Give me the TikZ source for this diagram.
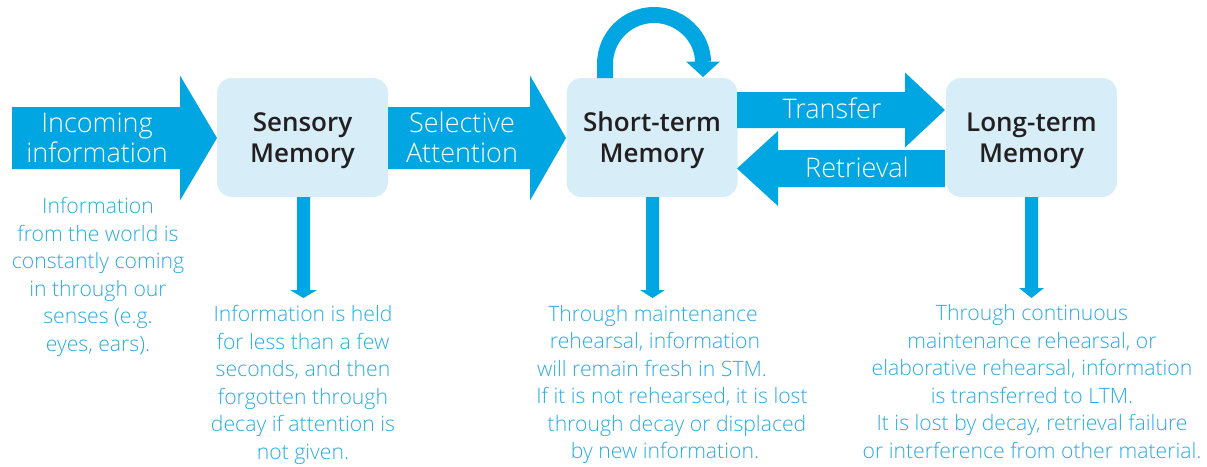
\documentclass[tikz,border=0pt]{standalone}
\usepackage{fontspec}
\setmainfont{Open Sans Light}
\newfontfamily\headfont{Open Sans Semibold}
\definecolor{flow}{HTML}{00A6E2}
\definecolor{boxfill}{HTML}{D7EEF9}
\definecolor{notecol}{HTML}{29ABE2}
\definecolor{ink}{HTML}{231F20}

% horizontal block arrow: tail x, head start x, tip x, centre y, half shaft, half head
\newcommand\hblock[6]{%
  \fill[flow] (#1,#4-#5) -- (#2,#4-#5) -- (#2,#4-#6) -- (#3,#4)
    -- (#2,#4+#6) -- (#2,#4+#5) -- (#1,#4+#5) -- cycle;}
% downward arrow: centre x, top y, head start y, tip y, half shaft, half head
\newcommand\vblock[6]{%
  \fill[flow] (#1-#5,#2) -- (#1-#5,#3) -- (#1-#6,#3) -- (#1,#4)
    -- (#1+#6,#3) -- (#1+#5,#3) -- (#1+#5,#2) -- cycle;}

\begin{document}
\begin{tikzpicture}[x=1pt,y=-1pt,
  membox/.style={fill=boxfill, rounded corners=15pt, inner sep=0pt,
    minimum width=171pt, minimum height=119pt, text=ink, align=center,
    font=\headfont\fontsize{26}{31}\selectfont},
  flowlabel/.style={text=white, inner sep=0pt, align=center,
    font=\fontsize{27}{30}\selectfont},
  notetext/.style={text=notecol, inner sep=0pt, align=center,
    font=\fontsize{21.2}{27.5}\selectfont}]

\useasboundingbox (0,0) rectangle (1207,466);

% memory stores
\node[membox] (sens) at (302.5,137.5) {\rule{0pt}{25pt}Sensory\\Memory};
\node[membox] (stm)  at (652,137.5)   {\rule{0pt}{25pt}Short-term\\Memory};
\node[membox] (ltm)  at (1031.5,137.5) {\rule{0pt}{25pt}Long-term\\Memory};

% flow arrows
\hblock{12}{180}{217}{138}{31}{62.5}
\hblock{388}{530}{566}{138}{31}{62.5}
\hblock{737}{905}{945}{110}{18}{37.5}
\hblock{945}{778}{737}{168.5}{18.5}{37.5}

% rehearsal loop on short-term memory
\draw[flow, line width=16pt] (605,78) -- (605,64)
  .. controls (605,37) and (627,15) .. (654,15)
  .. controls (681,15) and (703,37) .. (703,62);
\fill[flow] (686,61.5) -- (720,61.5) -- (703,77) -- cycle;

% downward arrows to the notes
\vblock{303.5}{197}{290}{298}{6.5}{13.5}
\vblock{652.5}{197}{290}{298}{6.5}{12.5}
\vblock{1031.5}{197}{288}{298}{6.5}{12.5}

% arrow labels
\node[flowlabel, anchor=north] (inlab) at (97,112.7) {Incoming\\information};
\node[flowlabel, anchor=north] (sellab) at (462,111.5) {Selective\\Attention};
\node[flowlabel, anchor=base] (trlab) at (832,118) {Transfer};
\node[flowlabel, anchor=base] (relab) at (857,177) {Retrieval};

% notes
\node[notetext, anchor=north] (worldnote) at (98,197.5)
  {Information\\from the world is\\constantly coming\\in through our\\senses (e.g.\\eyes, ears).};
\node[notetext, anchor=north] (sensnote) at (303,305.5)
  {Information is held\\for less than a few\\seconds, and then\\forgotten through\\decay if attention is\\not given.};
\node[notetext, anchor=base] (stm1) at (653,321)   {Through maintenance};
\node[notetext, anchor=base] (stm2) at (655,348.5) {rehearsal, information};
\node[notetext, anchor=base] (stm3) at (652,376)   {will remain fresh in STM.};
\node[notetext, anchor=base] (stm4) at (672,403.5) {If it is not rehearsed, it is lost};
\node[notetext, anchor=base] (stm5) at (677,431)   {through decay or displaced};
\node[notetext, anchor=base] (stm6) at (665,458.5) {by new information.};
\node[notetext, anchor=north] (ltmnote) at (1032,304.5)
  {Through continuous\\maintenance rehearsal, or\\elaborative rehearsal, information\\is transferred to LTM.\\It is lost by decay, retrieval failure\\or interference from other material.};
\end{tikzpicture}
\end{document}
